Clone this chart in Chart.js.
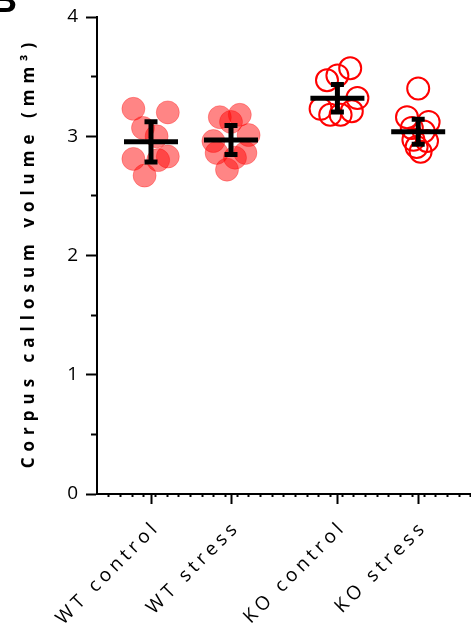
<!DOCTYPE html>
<html>
<head>
<meta charset="utf-8">
<script src="https://cdn.jsdelivr.net/npm/chart.js@4.4.1/dist/chart.umd.min.js"></script>
<style>
  html, body { margin: 0; padding: 0; background: #fff; }
  canvas { display: block; }
</style>
</head>
<body>
<canvas id="chart" width="471" height="631"></canvas>
<script>
let groups = ['WT control', 'WT stress', 'KO control', 'KO stress'];
let groupPos = [1, 2, 3.33, 4.34];

let wtControl = [3.23, 3.20, 3.07, 3.00, 2.81, 2.83, 2.80, 2.67];
let wtControlJitter = [-0.22, 0.21, -0.10, 0.07, -0.22, 0.21, 0.09, -0.08];
let wtStress = [3.16, 3.18, 3.12, 3.01, 2.96, 2.86, 2.86, 2.82, 2.72];
let wtStressJitter = [-0.14, 0.11, 0.0, 0.22, -0.22, -0.18, 0.18, 0.05, -0.05];
let koControl = [3.47, 3.57, 3.51, 3.23, 3.32, 3.18, 3.18, 3.21];
let koControlJitter = [-0.13, 0.16, 0.0, -0.21, 0.25, -0.09, 0.04, 0.18];
let koStress = [3.40, 3.16, 3.12, 3.07, 3.04, 2.97, 2.96, 2.87, 2.91];
let koStressJitter = [0.0, -0.14, 0.13, -0.08, 0.07, -0.06, 0.11, 0.03, -0.02];

let means = [2.953, 2.968, 3.319, 3.038];
let errors = [0.168, 0.122, 0.116, 0.105];

let yTicks = [0, 1, 2, 3, 4];
let yMinorTicks = [0.5, 1.5, 2.5, 3.5];

const xMin = 0.325, xMax = 5.0, dotStep = 0.146;

function points(values, jitter, pos) {
  return values.map((v, i) => ({x: pos + jitter[i], y: v}));
}

// fixed box sizes, no automatic label padding
function fixSize(s, w, h) {
  if (w !== null) s.width = w;
  if (h !== null) s.height = h;
  s.paddingLeft = s.paddingRight = s.paddingTop = s.paddingBottom = 0;
}

// wrap a scale's text drawing with canvas letter spacing
function spaceText(scale, method, spacing, dy) {
  if (scale['_orig_' + method]) return;
  const orig = scale[method];
  scale['_orig_' + method] = orig;
  scale[method] = function (...args) {
    this.ctx.save();
    this.ctx.letterSpacing = spacing;
    this.ctx.translate(0, dy);
    orig.apply(this, args);
    this.ctx.restore();
  };
}

const letterSpacing = {
  id: 'letterSpacing',
  beforeDraw(chart) {
    spaceText(chart.scales.x, 'drawLabels', '4.2px', 0);
    spaceText(chart.scales.y, 'drawTitle', '6px', -3);
  }
};

const errorBars = {
  id: 'errorBars',
  afterDatasetsDraw(chart) {
    const {ctx, scales: {x, y}} = chart;
    ctx.save();
    ctx.strokeStyle = '#000';
    ctx.lineWidth = 5;
    means.forEach((m, i) => {
      let px = x.getPixelForValue(groupPos[i]);
      let top = y.getPixelForValue(m + errors[i]);
      let bot = y.getPixelForValue(m - errors[i]);
      ctx.beginPath();
      ctx.moveTo(px, top); ctx.lineTo(px, bot);
      ctx.moveTo(px - 6.5, top); ctx.lineTo(px + 6.5, top);
      ctx.moveTo(px - 6.5, bot); ctx.lineTo(px + 6.5, bot);
      ctx.stroke();
    });
    ctx.restore();
  }
};

const panelLetter = {
  id: 'panelLetter',
  afterDraw(chart) {
    const ctx = chart.ctx;
    ctx.save();
    ctx.fillStyle = '#000';
    ctx.font = 'bold 36px "Liberation Sans"';
    ctx.textBaseline = 'alphabetic';
    ctx.fillText('B', -9, 12);
    ctx.restore();
  }
};

const filled = {
  backgroundColor: 'rgba(255, 0, 0, 0.48)',
  borderColor: 'rgba(255, 0, 0, 0.3)',
  borderWidth: 1,
  pointRadius: 11.5
};
const open = {
  backgroundColor: 'rgba(0, 0, 0, 0)',
  borderColor: '#ff0000',
  borderWidth: 2,
  pointRadius: 11
};

new Chart(document.getElementById('chart'), {
  type: 'scatter',
  data: {
    datasets: [
      {
        label: 'mean',
        data: means.map((m, i) => ({x: groupPos[i], y: m})),
        pointStyle: 'line',
        pointRadius: 27,
        borderWidth: 5,
        borderColor: '#000'
      },
      {label: groups[0], data: points(wtControl, wtControlJitter, groupPos[0]), ...filled},
      {label: groups[1], data: points(wtStress, wtStressJitter, groupPos[1]), ...filled},
      {label: groups[2], data: points(koControl, koControlJitter, groupPos[2]), ...open},
      {label: groups[3], data: points(koStress, koStressJitter, groupPos[3]), ...open}
    ]
  },
  options: {
    responsive: false,
    animation: false,
    clip: false,
    layout: { autoPadding: false, padding: { top: 17, right: 0, left: 0, bottom: 0 } },
    plugins: { legend: { display: false }, tooltip: { enabled: false } },
    scales: {
      x: {
        type: 'linear', position: 'bottom', min: xMin, max: xMax,
        afterBuildTicks: s => { s.ticks = groupPos.map(v => ({value: v})); },
        afterFit: s => fixSize(s, null, 137),
        grid: { drawOnChartArea: false, color: '#000', tickLength: 10, tickWidth: 2 },
        border: { color: '#000', width: 2 },
        ticks: {
          autoSkip: false, minRotation: 45, maxRotation: 45, padding: 12, labelOffset: 6,
          color: '#000', font: { family: 'Open Sans', size: 19 },
          callback: (v, i) => groups[i]
        }
      },
      xDots: {
        type: 'linear', position: 'bottom', weight: -1, min: xMin, max: xMax,
        afterBuildTicks: s => {
          let t = [];
          for (let v = s.min + dotStep; v < s.max; v += dotStep) t.push({value: v});
          s.ticks = t;
        },
        afterFit: s => fixSize(s, null, 0),
        grid: { drawOnChartArea: false, color: '#000', tickLength: 3, tickWidth: 2 },
        border: { display: false },
        ticks: { display: false }
      },
      y: {
        type: 'linear', position: 'left', min: 0, max: 4,
        afterBuildTicks: s => { s.ticks = yTicks.map(v => ({value: v})); },
        afterFit: s => fixSize(s, 97, null),
        grid: { drawOnChartArea: false, color: '#000', tickLength: 11, tickWidth: 2 },
        border: { color: '#000', width: 2 },
        ticks: { padding: 8, color: '#000', font: { family: 'Open Sans', size: 19 } },
        title: {
          display: true, text: 'Corpus callosum volume (mm³)', color: '#000',
          font: { family: 'Open Sans', size: 17, weight: 'bold' },
          padding: { top: 19, bottom: 0 }
        }
      },
      yMinor: {
        type: 'linear', position: 'left', weight: -1, min: 0, max: 4,
        afterBuildTicks: s => { s.ticks = yMinorTicks.map(v => ({value: v})); },
        afterFit: s => fixSize(s, 0, null),
        grid: { drawOnChartArea: false, color: '#000', tickLength: 6, tickWidth: 2 },
        border: { display: false },
        ticks: { display: false }
      }
    }
  },
  plugins: [letterSpacing, errorBars, panelLetter]
});
</script>
</body>
</html>
